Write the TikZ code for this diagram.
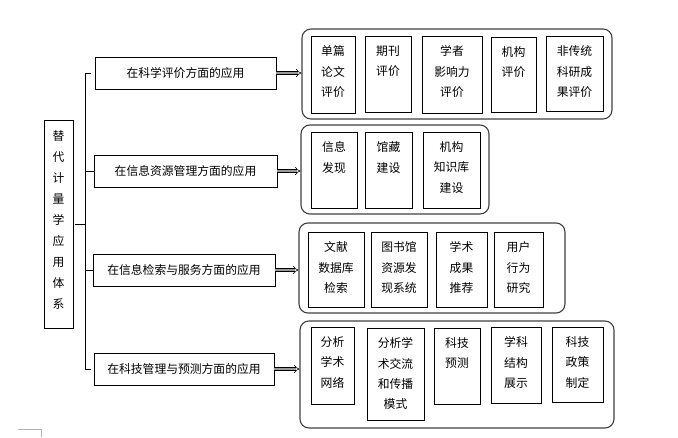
\documentclass[tikz,border=0pt]{standalone}
\usepackage{fontspec}
\newfontfamily\cjk{Noto Sans CJK SC}
\usetikzlibrary{arrows.meta}
\tikzset{
  box/.style={draw=black, line width=0.9pt, inner sep=0pt},
  grp/.style={draw=black!75, line width=1.1pt, rounded corners=9pt, inner sep=0pt},
  lbl/.style={font=\cjk\fontsize{11.8}{20}\selectfont, align=center, inner sep=0pt},
  itxt/.style={font=\cjk\fontsize{11.8}{20.3}\selectfont, align=center, inner sep=0pt, anchor=north},
  link/.style={line width=0.9pt},
  fat/.style={double=black!40, double distance=2.2pt, line width=0.6pt, -{Implies[length=3pt,width=6pt]}}
}
\newcommand\mybox[7]{% style, name, x1, y1, x2, y2, text
  \node[#1, minimum width={#5-#3}, minimum height={#6-#4}] (#2) at ({(#3+#5)/2},{(#4+#6)/2}) {};
}
\newcommand\ibox[6]{% name, x1, y1, x2, y2, text
  \node[box, minimum width={#4-#2}, minimum height={#5-#3}] (#1) at ({(#2+#4)/2},{(#3+#5)/2}) {};
  \node[itxt] (#1t) at ([yshift=-10pt]#1.north) {#6};
}
\begin{document}
\begin{tikzpicture}[x=1pt,y=-1pt]
\useasboundingbox (0,0) rectangle (678,437);
% root
\node[box, minimum width=29pt, minimum height=208pt] (root) at (58.5,224) {};
\node[lbl, font=\cjk\fontsize{11.8}{20.9}\selectfont] (roott) at (58.5,220) {替\\代\\计\\量\\学\\应\\用\\体\\系};
% level 1
\node[box, lbl, minimum width=181pt, minimum height=32pt] (b1) at (185.5,73) {在科学评价方面的应用};
\node[box, lbl, minimum width=183pt, minimum height=32pt] (b2) at (185.5,171) {在信息资源管理方面的应用};
\node[box, lbl, minimum width=182pt, minimum height=32pt] (b3) at (184,270) {在信息检索与服务方面的应用};
\node[box, lbl, minimum width=180pt, minimum height=32pt] (b4) at (184,369) {在科技管理与预测方面的应用};
% bracket
\coordinate (bx) at (85,224);
\draw[link] (root.east) ++(2pt,0) -- (bx);
\draw[link, shorten <=4pt] (b1.west) -| (bx);
\draw[link] (b2.west) -| (bx);
\draw[link] (b3.west) -| (bx);
\draw[link, shorten <=3pt] (b4.west) -| (bx);
% groups
\node[grp, minimum width=310pt, minimum height=90pt] (g1) at (457,74) {};
\node[grp, minimum width=188pt, minimum height=89pt] (g2) at (395,169.5) {};
\node[grp, minimum width=266pt, minimum height=90pt] (g3) at (432,268) {};
\node[grp, minimum width=314pt, minimum height=107pt] (g4) at (457,374.5) {};
% arrows
\draw[fat] (b1.east) -- (b1.east -| g1.west);
\draw[fat] (b2.east) -- (b2.east -| g2.west);
\draw[fat] (b3.east) -- (b3.east -| g3.west);
\draw[fat] (b4.east) -- (b4.east -| g4.west);
% group 1
\ibox{a1}{311}{36}{355}{113}{单篇\\论文\\评价}
\ibox{a2}{365}{36}{411}{112}{期刊\\评价}
\ibox{a3}{422}{36}{482}{113}{学者\\影响力\\评价}
\ibox{a4}{491}{37}{536}{112}{机构\\评价}
\ibox{a5}{546}{36}{603}{111}{非传统\\科研成\\果评价}
% group 2
\ibox{c1}{311}{132}{357}{208}{信息\\发现}
\ibox{c2}{365}{132}{412}{208}{馆藏\\建设}
\ibox{c3}{423}{132}{480}{208}{机构\\知识库\\建设}
% group 3
\ibox{d1}{308}{232}{364}{307}{文献\\数据库\\检索}
\ibox{d2}{371}{232}{427}{307}{图书馆\\资源发\\现系统}
\ibox{d3}{436}{232}{487}{307}{学术\\成果\\推荐}
\ibox{d4}{494}{232}{543}{307}{用户\\行为\\研究}
% group 4
\ibox{e1}{311}{327}{354}{404}{分析\\学术\\网络}
\ibox{e2}{367}{328}{424}{420}{分析学\\术交流\\和传播\\模式}
\ibox{e3}{434}{328}{480}{404}{科技\\预测}
\ibox{e4}{491}{327}{541}{403}{学科\\结构\\展示}
\ibox{e5}{552}{327}{603}{402}{科技\\政策\\制定}
% corner mark
\coordinate (m1) at (18,429);
\coordinate (m2) at (41,429);
\coordinate (m3) at (41,437);
\draw[black!30, line width=0.8pt] (m1) -- (m2) -- (m3);
\end{tikzpicture}
\end{document}
